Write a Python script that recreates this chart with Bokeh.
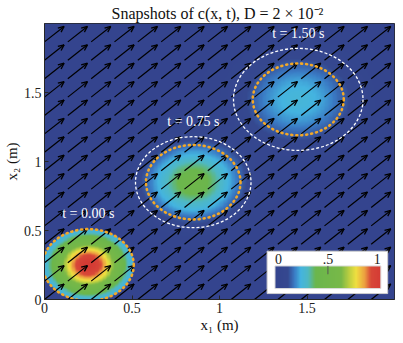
import numpy as np
from bokeh.plotting import figure
from bokeh.models import LinearColorMapper, FixedTicker, Range1d
from bokeh.embed import file_html
from bokeh.resources import INLINE
from bokeh.core.properties import value

# ---------------- data ----------------
snap_times = [0.00, 0.75, 1.50]          # s
snap_cx = [0.25, 0.85, 1.45]             # blob centres (m)
snap_cy = [0.25, 0.85, 1.45]
snap_peak = [1.00, 0.42, 0.26]           # peak concentration
snap_sigma = [0.15, 0.19, 0.24]          # spread (m)
snap_cut = [0.26, 9.0, 9.0]              # support radius (initial bump is compact)
ring_r = [0.26, 0.27, 0.26]              # orange dotted circles (advected initial support)
front_cx = [0.85, 1.45]                  # white dashed circles (diffused front)
front_cy = [0.85, 1.45]
front_r = [0.33, 0.37]
flow_u, flow_v = 0.8, 0.8                # velocity (m/s)
arrow_scale = 0.14                       # quiver scaling
grid_n = 15                              # quiver grid intervals over [0, 2]
x_ticks = [0, 0.5, 1, 1.5]
x_tick_labels = ["0", "0.5", "1", "1.5"]
y_ticks = [0, 0.5, 1, 1.5]
y_tick_labels = ["0", "0.5", "1", "1.5"]
cbar_ticks = [0, 0.5, 1]
cbar_tick_labels = ["0", ".5", "1"]
cmap_stops = [0.00, 0.12, 0.18, 0.24, 0.31, 0.38, 0.62, 0.70, 0.76, 0.84, 0.90, 1.00]
cmap_colors = ["#34448e", "#35488f", "#3a7ac4", "#44b4e0", "#4fb8c2", "#6bb64c",
               "#78b848", "#c0d040", "#f0e040", "#eca040", "#d84838", "#d43a34"]

FONT = "Liberation Serif"
NAVY = cmap_colors[0]

# ---------------- palette ----------------
def hex2rgb(h):
    return np.array([int(h[i:i + 2], 16) for i in (1, 3, 5)], dtype=float)

rgb = np.array([hex2rgb(c) for c in cmap_colors])
pal = []
for v in np.linspace(0, 1, 256):
    r, g, b = (np.interp(v, cmap_stops, rgb[:, k]) for k in range(3))
    pal.append("#%02x%02x%02x" % (int(round(r)), int(round(g)), int(round(b))))
mapper = LinearColorMapper(palette=pal, low=0, high=1)

# ---------------- field ----------------
n = 260
gx = (np.arange(n) + 0.5) * 2.0 / n
X, Y = np.meshgrid(gx, gx)
field = np.zeros_like(X)
for cx, cy, pk, sg, cut in zip(snap_cx, snap_cy, snap_peak, snap_sigma, snap_cut):
    r = np.hypot(X - cx, Y - cy)
    field += pk * np.exp(-r ** 2 / (2 * sg ** 2)) * (r < cut)

# ---------------- figure ----------------
W, H = 395, 335
BL, BR, BT, BB = 41, 1, 22, 36
p = figure(width=W, height=H, x_range=Range1d(0, 2), y_range=Range1d(0, 2),
           output_backend="svg", toolbar_location=None,
           min_border_left=BL, min_border_right=BR, min_border_top=BT, min_border_bottom=BB,
           title="Snapshots of c(x, t),  D = 2 × 10⁻²")
p.title.align = "center"
p.title.text_font = FONT
p.title.text_font_size = "16px"
p.title.text_font_style = "normal"
p.title.text_color = "#111111"
p.title.standoff = 4
p.grid.visible = False
p.background_fill_color = NAVY
p.border_fill_color = "white"
p.outline_line_color = "#262626"
p.outline_line_width = 1

p.xaxis.axis_label = "x₁ (m)"
p.yaxis.axis_label = "x₂ (m)"
for ax, ticks, labs in ((p.xaxis, x_ticks, x_tick_labels), (p.yaxis, y_ticks, y_tick_labels)):
    ax.ticker = FixedTicker(ticks=ticks)
    ax.major_label_overrides = {t: l for t, l in zip(ticks, labs)}
    ax.major_tick_in = 4
    ax.major_tick_out = 0
    ax.minor_tick_in = 0
    ax.minor_tick_out = 0
    ax.axis_line_color = "#262626"
    ax.major_tick_line_color = "#262626"
    ax.major_label_text_font = FONT
    ax.major_label_text_font_size = "14px"
    ax.major_label_text_color = "#222222"
    ax.major_label_standoff = 3
    ax.axis_label_text_font = FONT
    ax.axis_label_text_font_size = "15px"
    ax.axis_label_text_font_style = "normal"
    ax.axis_label_text_color = "#111111"
    ax.axis_label_standoff = 1

p.image(image=[field], x=0, y=0, dw=2, dh=2, color_mapper=mapper)

# ---------------- quiver ----------------
sx, sy = (W - BL - BR) / 2.0, (H - BT - BB) / 2.0   # px per metre
gpts = np.arange(grid_n) * 2.0 / grid_n
QX, QY = np.meshgrid(gpts, gpts)
x0 = QX.ravel(); y0 = QY.ravel()
du, dv = flow_u * arrow_scale, flow_v * arrow_scale
x1 = x0 + du; y1 = y0 + dv
p.segment(x0=x0, y0=y0, x1=x1, y1=y1, line_color="black", line_width=1.2)
ang = np.arctan2(dv * sy, du * sx)
hl = 6.5
hx, hy = [], []
for s in (+1, -1):
    a = ang + np.pi - s * np.radians(24)
    hx.append(x1 + hl * np.cos(a) / sx)
    hy.append(y1 + hl * np.sin(a) / sy)
p.segment(x0=np.concatenate([x1, x1]), y0=np.concatenate([y1, y1]),
          x1=np.concatenate(hx), y1=np.concatenate(hy), line_color="black", line_width=1.3)

# ---------------- circles ----------------
p.ellipse(x=front_cx, y=front_cy, width=[2 * r for r in front_r], height=[2 * r for r in front_r],
          fill_alpha=0, line_color="white", line_width=1.3, line_dash="3 2")
p.ellipse(x=snap_cx, y=snap_cy, width=[2 * r for r in ring_r], height=[2 * r for r in ring_r],
          fill_alpha=0, line_color="#f2a828", line_width=2.6, line_dash="1 4", line_cap="round")

# ---------------- time labels ----------------
lab_r = [ring_r[0]] + front_r
p.text(x=snap_cx, y=[cy + r + 0.11 for cy, r in zip(snap_cy, lab_r)],
       text=["t = %.2f s" % t for t in snap_times], text_color="white",
       text_font=value(FONT), text_font_size="14px", text_align="center", text_baseline="middle")

# ---------------- colour bar legend ----------------
p.quad(left=[1.272], right=[1.961], bottom=[0.043], top=[0.35], fill_color="white",
       line_color="#cfcfcf", line_width=1)
bl, br, bb, bt = 1.317, 1.922, 0.079, 0.243
p.image(image=[np.linspace(0, 1, 256)[None, :]], x=bl, y=bb, dw=br - bl, dh=bt - bb, color_mapper=mapper)
p.quad(left=[bl], right=[br], bottom=[bb], top=[bt], fill_alpha=0, line_color="#dddddd", line_width=1)
p.segment(x0=[bl + 0.5 * (br - bl)], y0=[bt], x1=[bl + 0.5 * (br - bl)], y1=[bt - 0.06],
          line_color="#555555", line_width=1)
p.text(x=[bl + t * (br - bl) for t in cbar_ticks], y=[0.295] * 3, text=cbar_tick_labels,
       text_align=["left", "center", "right"], text_baseline="middle", text_color="#222222",
       text_font=value(FONT), text_font_size="14px")

open("out.html", "w").write(file_html(p, INLINE))
